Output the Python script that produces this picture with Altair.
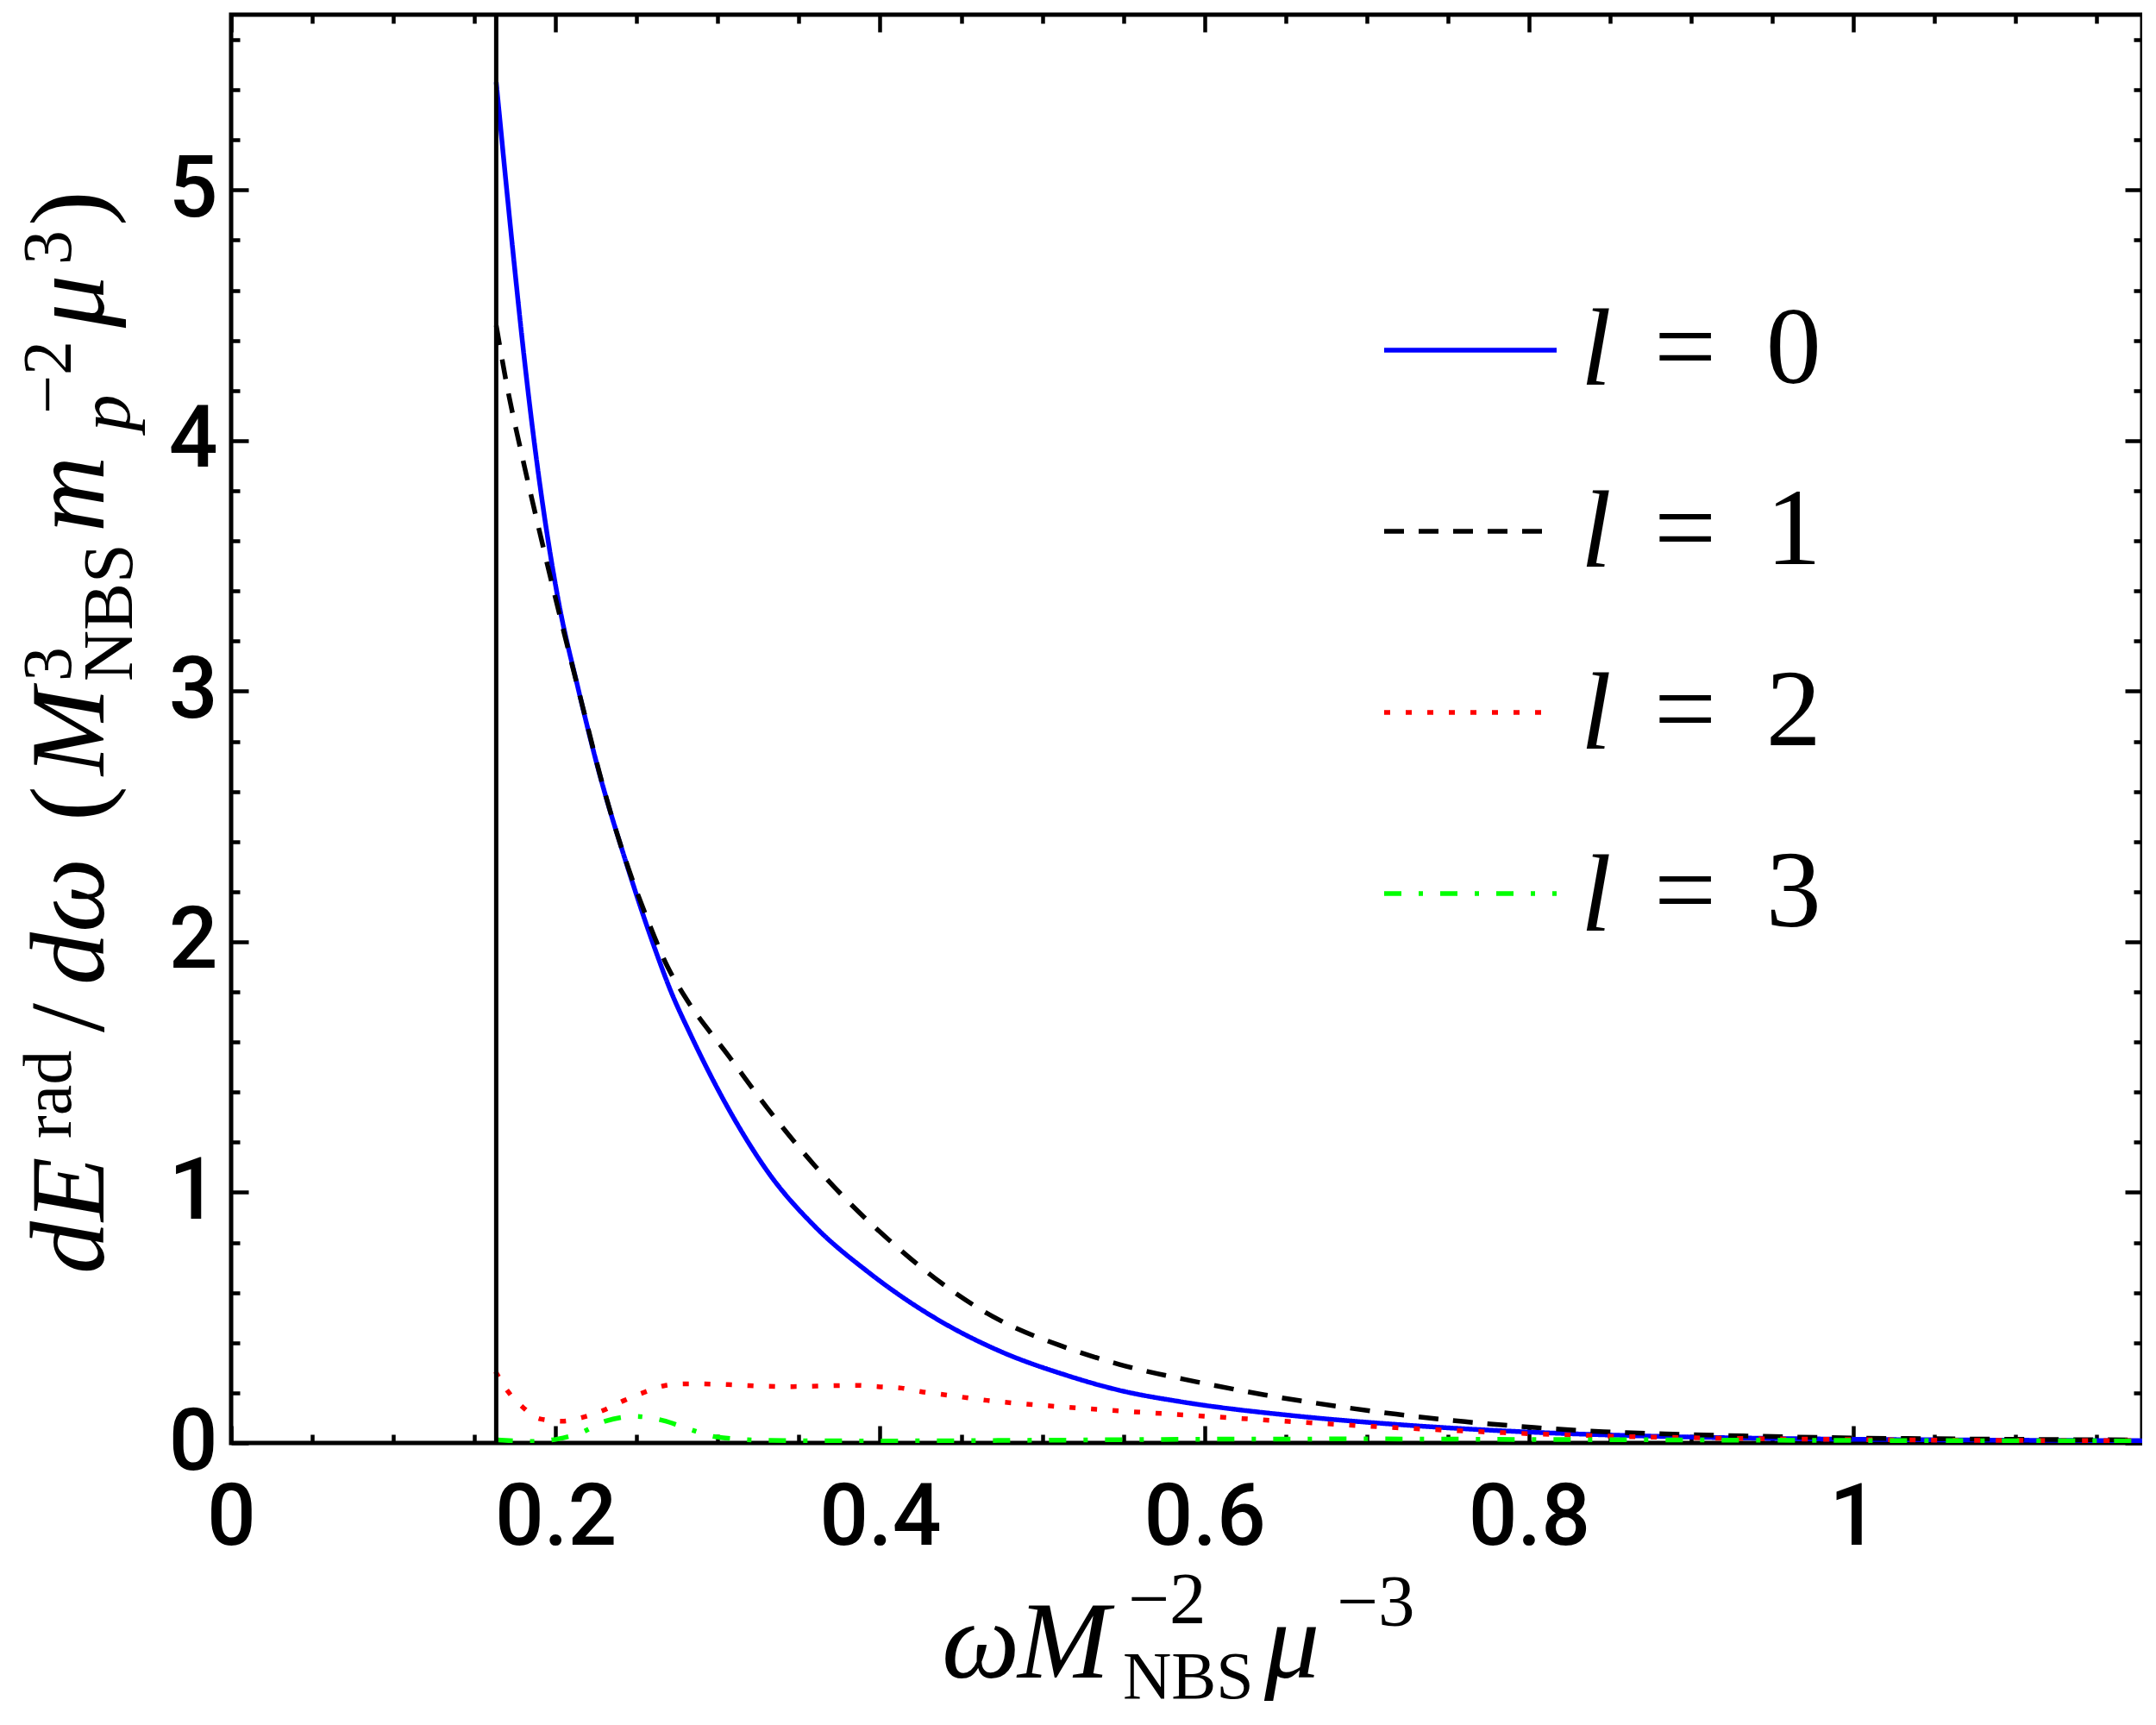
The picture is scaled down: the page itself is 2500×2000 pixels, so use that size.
import altair as alt
import pandas as pd

# ---------------- data ----------------
X_MAX = 1.178
Y_MAX = 5.7
threshold_omega = [0.1634]

series_names = ["l = 0", "l = 1", "l = 2", "l = 3"]

l0_x = [0.1634, 0.1741, 0.1797, 0.1859, 0.1931, 0.2019, 0.2139, 0.2272, 0.2432, 0.2609,
        0.2706, 0.2839, 0.3105, 0.3316, 0.3600, 0.3927, 0.4333, 0.4740, 0.5140, 0.5490,
        0.5850, 0.6560, 0.7270, 0.7985, 0.8700, 0.9410, 1.0130, 1.1000, 1.1780]
l0_y = [5.431, 4.731, 4.387, 4.043, 3.699, 3.355, 3.011, 2.667, 2.322, 1.978,
        1.810, 1.620, 1.289, 1.075, 0.863, 0.682, 0.501, 0.366, 0.272, 0.208,
        0.165, 0.108, 0.070, 0.044, 0.028, 0.019, 0.014, 0.011, 0.009]

l1_x = [0.1634, 0.1700, 0.1800, 0.1900, 0.2000, 0.2100, 0.2180, 0.2272, 0.2432, 0.2565,
        0.2692, 0.2797, 0.3072, 0.3337, 0.3600, 0.3865, 0.4110, 0.4374, 0.4740, 0.5127,
        0.5473, 0.5944, 0.6370, 0.6800, 0.7180, 0.7606, 0.8030, 0.8460, 0.8890, 0.9320,
        1.0000, 1.0670, 1.1780]
l1_y = [4.460, 4.220, 3.920, 3.640, 3.370, 3.110, 2.905, 2.670, 2.325, 2.092,
        1.898, 1.781, 1.540, 1.310, 1.105, 0.924, 0.779, 0.640, 0.489, 0.385,
        0.314, 0.245, 0.192, 0.148, 0.115, 0.085, 0.062, 0.045, 0.035, 0.028,
        0.020, 0.016, 0.012]

l2_x = [0.1630, 0.1707, 0.1799, 0.1905, 0.2043, 0.2165, 0.2290, 0.2424, 0.2545, 0.2668,
        0.2800, 0.3065, 0.3194, 0.3462, 0.3723, 0.3859, 0.3987, 0.4133, 0.4252, 0.4393,
        0.4659, 0.5045, 0.5452, 0.5850, 0.6515, 0.7180, 0.7845, 0.8510, 0.9180, 1.0130,
        1.1780]
l2_y = [0.285, 0.205, 0.142, 0.096, 0.087, 0.102, 0.129, 0.170, 0.202, 0.228,
        0.236, 0.233, 0.229, 0.225, 0.229, 0.230, 0.225, 0.219, 0.205, 0.193,
        0.170, 0.148, 0.129, 0.113, 0.086, 0.061, 0.041, 0.027, 0.019, 0.013,
        0.009]

l3_x = [0.1630, 0.1860, 0.2013, 0.2149, 0.2308, 0.2488, 0.2661, 0.2825, 0.2990, 0.3330,
        0.4000, 0.5000, 0.6000, 0.7000, 0.8000, 0.9000, 1.0000, 1.1780]
l3_y = [0.013, 0.006, 0.016, 0.039, 0.087, 0.106, 0.090, 0.055, 0.024, 0.010,
        0.008, 0.011, 0.015, 0.016, 0.014, 0.012, 0.010, 0.008]

x_major = [0, 0.2, 0.4, 0.6, 0.8, 1.0]
x_minor = [0.05, 0.1, 0.15, 0.25, 0.3, 0.35, 0.45, 0.5, 0.55, 0.65, 0.7, 0.75,
           0.85, 0.9, 0.95, 1.05, 1.1, 1.15]
y_major = [0, 1, 2, 3, 4, 5]
y_minor = [0.2, 0.4, 0.6, 0.8, 1.2, 1.4, 1.6, 1.8, 2.2, 2.4, 2.6, 2.8, 3.2, 3.4,
           3.6, 3.8, 4.2, 4.4, 4.6, 4.8, 5.2, 5.4, 5.6]

line_colors = ["#0000ff", "#000000", "#ff0000", "#00ff00"]
line_dashes = [[1, 0], [23, 17], [7, 18], [20, 20, 5, 20]]

# ---------------- build table ----------------
rows = []
for name, xs, ys in zip(series_names, [l0_x, l1_x, l2_x, l3_x], [l0_y, l1_y, l2_y, l3_y]):
    for i, (xv, yv) in enumerate(zip(xs, ys)):
        rows.append({"omega": xv, "dE": yv, "series": name, "idx": i})
df = pd.DataFrame(rows)
rule_df = pd.DataFrame({"omega": threshold_omega})
one = pd.DataFrame({"k": [0]})

xscale = alt.Scale(domain=[0, X_MAX], nice=False, zero=False)
yscale = alt.Scale(domain=[0, Y_MAX], nice=False, zero=False)

LABEL_FONT = "Roboto"
MATH_FONT = "Liberation Serif"

ax_x_main = alt.Axis(values=x_major, format="~g", tickSize=0, domain=False, grid=False,
                     labelFont=LABEL_FONT, labelFontSize=100, labelFontWeight=500,
                     labelColor="black", labelPadding=38, labelFlush=False,
                     labelOverlap=False, title=None)
ax_y_main = alt.Axis(values=y_major, format="d", tickSize=0, domain=False, grid=False,
                     labelFont=LABEL_FONT, labelFontSize=100, labelFontWeight=500,
                     labelColor="black", labelPadding=16, labelFlush=False,
                     labelOverlap=False, title=None)


def tick_axis(orient, values, length):
    return alt.Axis(orient=orient, values=values, offset=-length, tickSize=length,
                    tickWidth=4.5, tickColor="black", labels=False, domain=False,
                    grid=False, title=None)


legend = alt.Legend(orient="none", legendX=1334, legendY=286, title=None,
                    symbolType="stroke", symbolSize=40000, symbolStrokeWidth=5.5,
                    labelFont=MATH_FONT, labelFontSize=128, labelColor="black",
                    labelOffset=110, labelLimit=2000, rowPadding=43, padding=0,
                    labelExpr="replace(datum.label, 'l = ', '= \u2009')")

lines = alt.Chart(df).mark_line(strokeWidth=5.5, interpolate="monotone", clip=True).encode(
    x=alt.X("omega:Q", scale=xscale, axis=ax_x_main),
    y=alt.Y("dE:Q", scale=yscale, axis=ax_y_main),
    color=alt.Color("series:N", scale=alt.Scale(domain=series_names, range=line_colors),
                    legend=legend),
    strokeDash=alt.StrokeDash("series:N", scale=alt.Scale(domain=series_names, range=line_dashes),
                              legend=legend),
    order=alt.Order("idx:Q"),
)

vline = alt.Chart(rule_df).mark_rule(color="black", strokeWidth=5).encode(
    x=alt.X("omega:Q", scale=xscale, axis=None),
)


def tick_layer(xo, yo, xv, yv, length):
    return alt.Chart(df).mark_point(opacity=0, size=1).encode(
        x=alt.X("omega:Q", scale=xscale, axis=tick_axis(xo, xv, length)),
        y=alt.Y("dE:Q", scale=yscale, axis=tick_axis(yo, yv, length)),
    )


ticks = [
    tick_layer("bottom", "left", x_major, y_major, 20),
    tick_layer("bottom", "left", x_minor, y_minor, 10),
    tick_layer("top", "right", x_major, y_major, 20),
    tick_layer("top", "right", x_minor, y_minor, 10),
]


def piece(text, x, y, size, italic=False, angle=0, baseline="alphabetic"):
    kw = dict(x=x, y=y, fontSize=size, font=MATH_FONT, align="left",
              baseline=baseline, color="black", angle=angle)
    if italic:
        kw["fontStyle"] = "italic"
    return alt.Chart(one).mark_text(**kw).encode(text=alt.value(text))


# italic "l" of the legend entries (the rest of each label is the legend's own text)
legend_l = [piece("l", 1565, yy, 128, True, 0, "middle") for yy in (391, 602, 813, 1024)]

# x-axis title:  ω M_NBS^-2 μ^-3
xtitle = [
    piece("ω", 824, 1928, 128, True),
    piece("M", 912, 1928, 128, True),
    piece("−2", 1040, 1865, 85),
    piece("NBS", 1034, 1952, 78),
    piece("μ", 1198, 1928, 128, True),
    piece("−3", 1282, 1868, 85),
]

# y-axis title:  dE^rad / dω ( M_NBS^3 m_p^-2 μ^3 )
R = 270
ytitle = [
    piece("dE", -148, 1460, 122, True, R),
    piece("rad", -186, 1303, 80, False, R),
    piece("/", -148, 1180, 122, False, R),
    piece("dω", -148, 1125, 122, True, R),
    piece("(", -148, 935, 122, False, R),
    piece("M", -148, 882, 122, True, R),
    piece("3", -186, 773, 80, False, R),
    piece("NBS", -115, 773, 82, False, R),
    piece("m", -148, 600, 122, True, R),
    piece("p", -118, 483, 85, True, R),
    piece("−2", -186, 463, 80, False, R),
    piece("μ", -148, 363, 122, True, R),
    piece("3", -186, 290, 80, False, R),
    piece(")", -148, 245, 122, False, R),
]

chart = alt.layer(lines, vline, *ticks, *legend_l, *xtitle, *ytitle).resolve_axis(
    x="independent", y="independent"
).properties(
    width=2216, height=1656,
    autosize=alt.AutoSizeParams(type="none"),
    padding={"left": 260, "top": 9, "right": 0, "bottom": 318},
    background="white",
).configure_view(stroke="black", strokeWidth=5)

chart.save("out.html", embed_options={"renderer": "svg", "actions": False})
